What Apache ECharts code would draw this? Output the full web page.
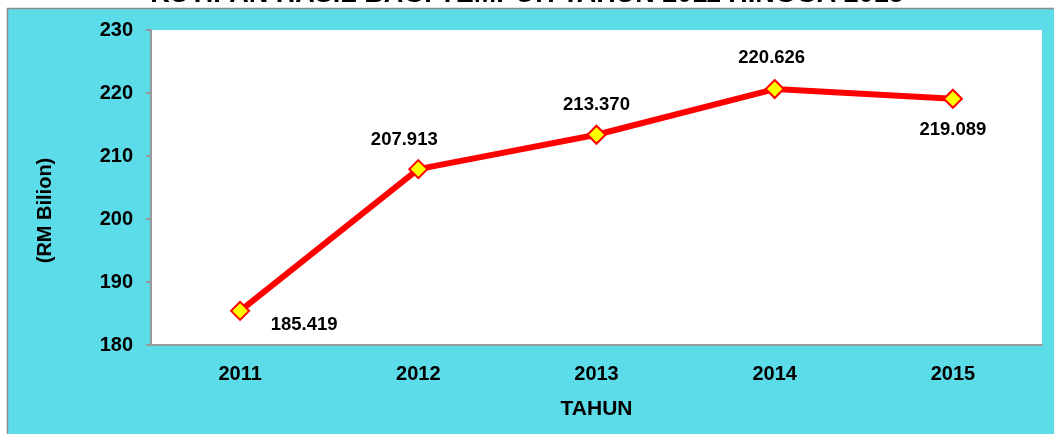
<!DOCTYPE html>
<html>
<head>
<meta charset="utf-8">
<script src="https://cdn.jsdelivr.net/npm/echarts@6/dist/echarts.min.js"></script>
<style>
  html, body { margin: 0; padding: 0; background: #fff; }
  #chart { width: 1054px; height: 434px; }
</style>
</head>
<body>
<div id="chart"></div>
<script>
var years = ['2011', '2012', '2013', '2014', '2015'];
var kutipan = [185.419, 207.913, 213.370, 220.626, 219.089];
var yTicks = [180, 190, 200, 210, 220, 230];

// label placement around each point (px)
var labelOffsets = [[64, 14], [-14, -29], [0, -30], [-3, -31], [0, 31]];

var font = 'Liberation Sans, Arial, sans-serif';

var chart = echarts.init(document.getElementById('chart'));

var option = {
  backgroundColor: '#fff',
  animation: false,
  title: {
    text: 'KUTIPAN HASIL BAGI TEMPOH TAHUN 2011 HINGGA 2015',
    left: 'center',
    top: -24,
    textStyle: { fontFamily: font, fontSize: 27, fontWeight: 'bold', color: '#000' }
  },
  graphic: [{
    type: 'rect',
    z: -10,
    shape: { x: 7.5, y: 8.5, width: 1060, height: 440 },
    style: { fill: '#5cdbe9', stroke: '#8c8c8c', lineWidth: 1.5 }
  }],
  grid: {
    left: 151, right: 12, top: 30, bottom: 89,
    show: true, backgroundColor: '#fff', borderWidth: 0
  },
  xAxis: {
    type: 'category',
    data: years,
    name: 'TAHUN',
    nameLocation: 'middle',
    nameGap: 54,
    nameTextStyle: { fontFamily: font, fontSize: 21, fontWeight: 'bold', color: '#000' },
    axisLine: { lineStyle: { color: '#999', width: 2 } },
    axisTick: { length: 5, lineStyle: { color: '#999', width: 2 } },
    axisLabel: { margin: 19, fontFamily: font, fontSize: 20, fontWeight: 'bold', color: '#000' },
    splitLine: { show: false }
  },
  yAxis: {
    type: 'value',
    min: yTicks[0],
    max: yTicks[yTicks.length - 1],
    interval: 10,
    name: '(RM Bilion)',
    nameLocation: 'middle',
    nameGap: 96,
    nameTextStyle: { fontFamily: font, fontSize: 20, fontWeight: 'bold', color: '#000', padding: [0, 46, 0, 0] },
    axisLine: { show: true, lineStyle: { color: '#999', width: 2 } },
    axisTick: { show: true, length: 5, lineStyle: { color: '#999', width: 2 } },
    axisLabel: { margin: 18, fontFamily: font, fontSize: 20, fontWeight: 'bold', color: '#000' },
    splitLine: { show: false }
  },
  series: [{
    type: 'line',
    data: kutipan.map(function (v, i) {
      return {
        value: v,
        label: { position: 'inside', offset: labelOffsets[i] }
      };
    }),
    symbol: 'diamond',
    symbolSize: 18,
    lineStyle: { color: '#ff0000', width: 6 },
    itemStyle: { color: '#ffff00', borderColor: '#ff0000', borderWidth: 2 },
    label: {
      show: true,
      fontFamily: font,
      fontSize: 18.5,
      fontWeight: 'bold',
      color: '#000',
      formatter: function (p) { return p.value.toFixed(3); }
    }
  }]
};

chart.setOption(option);
</script>
</body>
</html>
